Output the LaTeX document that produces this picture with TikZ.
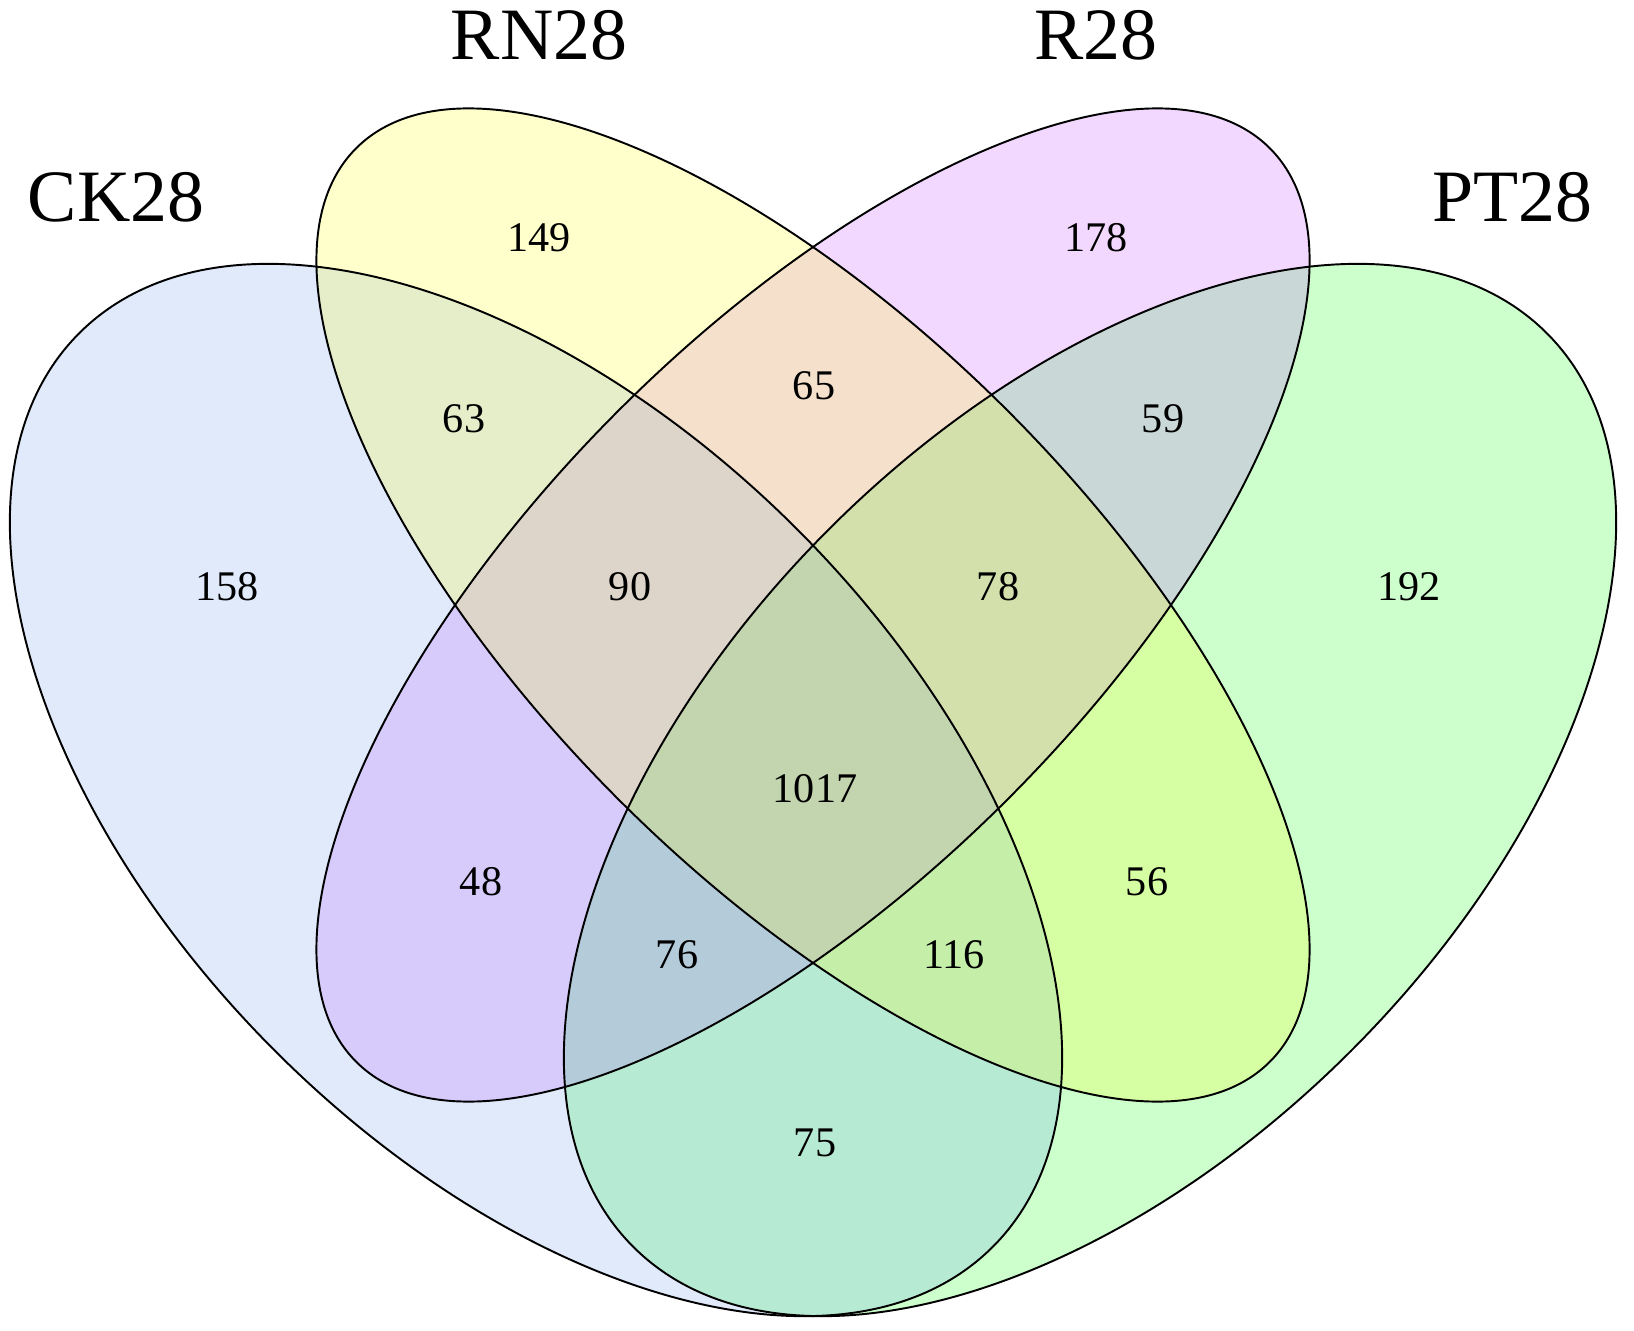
\documentclass[tikz,border=0pt]{standalone}
\usepackage{fontspec}
\setmainfont{Liberation Serif}
\definecolor{ckc}{RGB}{100,149,237}
\definecolor{rnc}{RGB}{255,255,0}
\definecolor{rc}{RGB}{191,62,255}
\definecolor{ptc}{RGB}{0,255,0}
\begin{document}
\begin{tikzpicture}[x=0.01cm,y=-0.01cm,
  setfill/.style={fill opacity=0.2},
  setline/.style={draw=black,line width=0.55pt},
  setname/.style={font=\fontsize{21}{24}\selectfont,inner sep=0pt},
  count/.style={font=\fontsize{12}{14}\selectfont,inner sep=0pt}]
\useasboundingbox (0,0) rectangle (1634,1331);
\coordinate (cCK) at (536,790);
\coordinate (cRN) at (813,605);
\coordinate (cR) at (813,605);
\coordinate (cPT) at (1090,790);
% fills (stacking order: PT, R, CK, RN)
\fill[ptc,setfill,rotate around={45:(cPT)}] (cPT) ellipse [x radius=646, y radius=369];
\fill[rc,setfill,rotate around={45:(cR)}] (cR) ellipse [x radius=646, y radius=275];
\fill[ckc,setfill,rotate around={-45:(cCK)}] (cCK) ellipse [x radius=646, y radius=369];
\fill[rnc,setfill,rotate around={-45:(cRN)}] (cRN) ellipse [x radius=646, y radius=275];
% outlines
\draw[setline,rotate around={-45:(cCK)}] (cCK) ellipse [x radius=646, y radius=369];
\draw[setline,rotate around={-45:(cRN)}] (cRN) ellipse [x radius=646, y radius=275];
\draw[setline,rotate around={45:(cR)}] (cR) ellipse [x radius=646, y radius=275];
\draw[setline,rotate around={45:(cPT)}] (cPT) ellipse [x radius=646, y radius=369];
% set names
\node[setname] (nCK) at (116,197) {CK28};
\node[setname] (nRN) at (539,35) {RN28};
\node[setname] (nR) at (1096,35) {R28};
\node[setname] (nPT) at (1512,197) {PT28};
% counts
\node[count] (k149) at (539,238) {149};
\node[count] (k178) at (1096,238) {178};
\node[count] (k158) at (227,587) {158};
\node[count] (k192) at (1409,587) {192};
\node[count] (k63) at (464,419) {63};
\node[count] (k65) at (814,386) {65};
\node[count] (k59) at (1163,419) {59};
\node[count] (k90) at (630,587) {90};
\node[count] (k78) at (998,587) {78};
\node[count] (k1017) at (815,789) {1017};
\node[count] (k48) at (481,882) {48};
\node[count] (k56) at (1147,882) {56};
\node[count] (k76) at (677,955) {76};
\node[count] (k116) at (954,955) {116};
\node[count] (k75) at (815,1143) {75};
\end{tikzpicture}
\end{document}
